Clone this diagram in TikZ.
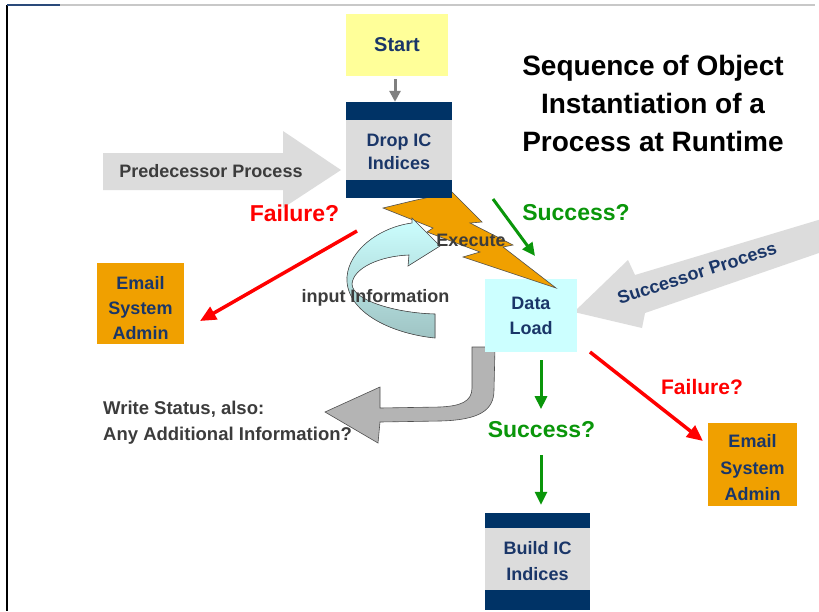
\documentclass[tikz,border=0pt]{standalone}
\usepackage{fontspec}
\setmainfont{Liberation Sans}
\usetikzlibrary{arrows.meta,calc}
\definecolor{navy}{HTML}{003366}
\definecolor{navytext}{HTML}{1A3668}
\definecolor{boxgray}{HTML}{DCDCDC}
\definecolor{arrowgray}{HTML}{DCDCDC}
\definecolor{startyellow}{HTML}{FFFF99}
\definecolor{orangebox}{HTML}{F0A000}
\definecolor{cyanbox}{HTML}{CCFFFF}
\definecolor{cyandark}{HTML}{9FC4C4}
\definecolor{okgreen}{HTML}{0A960A}
\definecolor{failred}{HTML}{FF0000}
\definecolor{darktext}{HTML}{3C3C3C}
\definecolor{outlinegray}{HTML}{505050}
\definecolor{writegray}{HTML}{B4B4B4}
\definecolor{framegray}{HTML}{C8C8C8}
\definecolor{frameblue}{HTML}{2A4A7A}
\begin{document}
\begin{tikzpicture}[x=1pt,y=-1pt,
  boxtext/.style={inner sep=0pt, align=center, text=navytext,
    font=\fontsize{18}{25}\selectfont\bfseries},
  label18/.style={inner sep=0pt, align=center, text=darktext,
    font=\fontsize{18}{26}\selectfont\bfseries},
  qlabel/.style={inner sep=0pt, font=\fontsize{23}{26}\selectfont\bfseries},
  greenarrow/.style={draw=okgreen, line width=3pt, -{Triangle[length=13pt,width=12pt]}},
  redarrow/.style={draw=failred, line width=3.5pt, -{Triangle[length=16pt,width=14pt]}},
  grayarrow/.style={draw=gray, line width=3pt, -{Triangle[length=11pt,width=11pt]}},
  outlined/.style={draw=outlinegray, line width=0.6pt}
]
\useasboundingbox (0,0) rectangle (819,611);
\clip (0,0) rectangle (819,611);
\fill[white] (0,0) rectangle (819,611);
% frame
\draw[black, line width=1.5pt] (7,5) -- (7,611);
\draw[frameblue, line width=1.5pt] (7,5) -- (60,5);
\draw[framegray, line width=1.5pt] (60,5) -- (815,5);

% title
\node[inner sep=0pt, align=center, font=\fontsize{28}{38}\selectfont\bfseries] (title) at (653,103)
  {Sequence of Object\\Instantiation of a\\Process at Runtime};

% predecessor arrow
\fill[arrowgray] (103,153) -- (283,153) -- (283,131) -- (341,170) -- (283,208) -- (283,190) -- (103,190) -- cycle;
\node[label18, text=darktext] (pred) at (211,171) {Predecessor Process};

% successor arrow
\fill[arrowgray] (574,312) -- (628,260) -- (635,275) -- (900,195.5) -- (900,225) -- (645,313) -- (642,328) -- cycle;
\node[label18, text=navytext, rotate=18] (succ) at (697,273) {Successor Process};

% write status arrow
\filldraw[outlined, fill=writegray] (472,347) -- (472,388) .. controls (472,402) and (460,406) .. (440,407)
  -- (380,408) -- (380,387) -- (325,412) -- (378,443) -- (380,422) -- (440,421)
  .. controls (480,420) and (494,410) .. (494,390) -- (495,347) -- cycle;
\node[inner sep=0pt, align=left, anchor=west, text=darktext,
  font=\fontsize{18.5}{26}\selectfont\bfseries] (write) at (103,423)
  {Write Status, also:\\Any Additional Information?};

% email left
\node[fill=orangebox, minimum width=87pt, minimum height=81pt] (emailL) at (140.5,303.5) {};
\node[boxtext] (emailLtext) at (140.5,308) {Email\\System\\Admin};
% email right
\node[fill=orangebox, minimum width=89pt, minimum height=83pt] (emailR) at (752.5,464.5) {};
\node[boxtext, font=\fontsize{18}{26.5}\selectfont\bfseries] (emailRtext) at (752.5,468) {Email\\System\\Admin};

% data load
\node[boxtext] (dataload) at (531,315.5) [fill=cyanbox, minimum width=92pt, minimum height=73pt] {Data\\Load};

% lightning bolt (over data load, under drop box)
\filldraw[outlined, fill=orangebox] (383,208) -- (412,201) -- (452,192) -- (482,222) -- (470,223)
  -- (513,245) -- (503,247) -- (556,288) -- (463,257) -- (480,252) -- (427,232) -- (433,228) -- cycle;

% start
\node[boxtext, fill=startyellow, minimum width=102pt, minimum height=62pt, font=\fontsize{20}{24}\selectfont\bfseries] (start) at (397,45) {Start};

% drop box
\node[fill=boxgray, minimum width=106pt, minimum height=96pt] (drop) at (399,150) {};
\node[boxtext, font=\fontsize{18}{23}\selectfont\bfseries] (droptext) at (399,152) {Drop IC\\Indices};
\fill[navy] (drop.north west) rectangle ($(drop.north east)+(0,18)$);
\fill[navy] (drop.south west) rectangle ($(drop.south east)+(0,-18)$);

\draw[grayarrow] ([shift={(-2,3)}]start.south) -- ([shift={(-4,0)}]drop.north);

% cyan input arrow
\filldraw[outlined, top color=cyanbox, bottom color=cyandark]
  (435,338) .. controls (395,334) and (350,315) .. (347,282)
  .. controls (345,255) and (375,228) .. (412,223) -- (412,218) -- (440,246) -- (408,266) -- (409,255)
  .. controls (380,256) and (353,268) .. (352,284)
  .. controls (352,300) and (395,313) .. (435,314) -- cycle;

\node[label18] (execute) at (471,240) {Execute};
\node[label18] (input) at (375.5,298) {input Information};

% build box
\node[boxtext, fill=boxgray, minimum width=105pt, minimum height=97pt, font=\fontsize{18}{26}\selectfont\bfseries] (build) at (537.5,561.5) {Build IC\\Indices};
\fill[navy] (build.north west) rectangle ($(build.north east)+(0,15)$);
\fill[navy] (build.south west) rectangle ($(build.south east)+(0,-20)$);

% labels
\node[qlabel, text=okgreen] (succ1) at (576,213) {Success?};
\node[qlabel, text=failred] (fail1) at (294.5,213) {Failure?};
\node[qlabel, text=okgreen] (succ2) at (541.5,430) {Success?};
\node[qlabel, text=failred, font=\fontsize{21}{24}\selectfont\bfseries] (fail2) at (702,387) {Failure?};

% connectors
\coordinate (g1s) at (493,199);
\coordinate (g1e) at (535,256);
\draw[greenarrow] (g1s) -- (g1e);
\coordinate (rls) at (357,231);
\coordinate (rle) at (200,321);
\draw[redarrow] (rls) -- (rle);
\coordinate (rrs) at (590,352);
\coordinate (rre) at (703,441);
\draw[redarrow] (rrs) -- (rre);
\draw[greenarrow] ([shift={(10,8)}]dataload.south) -- ([shift={(-0.5,-12.5)}]succ2.north);
\draw[greenarrow] ([shift={(-0.5,17)}]succ2.south) -- ([shift={(3.5,-8)}]build.north);
\end{tikzpicture}
\end{document}
